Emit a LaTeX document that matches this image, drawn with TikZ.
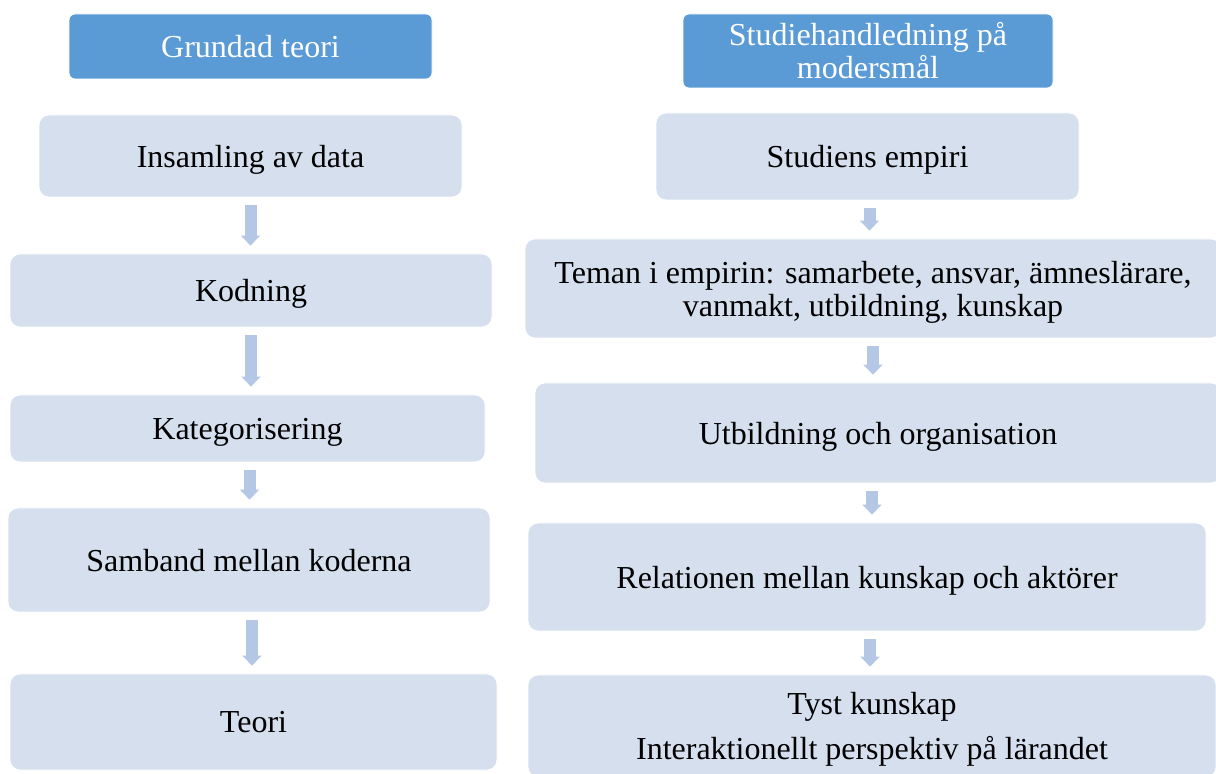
\documentclass[tikz,border=0pt]{standalone}
\usepackage{fontspec}
\setmainfont{Liberation Serif}
\usetikzlibrary{arrows.meta}
\definecolor{headblue}{HTML}{5B9BD5}
\definecolor{boxblue}{HTML}{D5DFEE}
\definecolor{arrowblue}{HTML}{B4C8E6}

\begin{document}
\begin{tikzpicture}[
  x=0.5pt,
  y=-0.5pt,
  font=\fontsize{16}{16.5}\selectfont,
  head/.style={
    fill=headblue,
    draw=white,
    text=white,
    rounded corners=3pt,
    align=center,
    inner sep=0pt
  },
  stage/.style={
    fill=boxblue,
    draw=white,
    rounded corners=5pt,
    align=center,
    text depth=0pt,
    inner sep=0pt
  },
  flow/.style={
    draw=arrowblue,
    line width=6pt,
    -{Triangle[width=9.5pt, length=5pt]},
    shorten <=4pt,
    shorten >=4pt
  }
  ]
  \useasboundingbox (0, 0) rectangle (1216, 774);
  \clip (0, 0) rectangle (1216, 774);

  \node [head, minimum width=181.5pt, minimum height=32.5pt] (Grundad) at (250.5, 46.5) {Grundad teori};
  \node [stage, minimum width=211.5pt, minimum height=41pt] (Insamling) at (250.5, 156) {Insamling av data};
  \node [stage, minimum width=241pt, minimum height=36.5pt] (Kodning) at (251, 290.5) {Kodning};
  \node [stage, minimum width=237.5pt, minimum height=33.5pt] (Kategorisering) at (247.5, 428.5) {Kategorisering};
  \node [stage, minimum width=241pt, minimum height=52pt] (Samband) at (249, 560) {Samband mellan koderna};
  \node [stage, minimum width=243.5pt, minimum height=48pt] (Teori) at (253.5, 722) {Teori};

  \node [head, minimum width=185pt, minimum height=37pt] (Studiehandledning) at (868, 51) {Studiehandledning på\\modersmål};
  \node [stage, minimum width=211.5pt, minimum height=43.5pt] (Empiri) at (867.5, 156.5) {Studiens empiri};
  \node [stage, minimum width=348pt, minimum height=49.5pt] (Teman) at (873, 288.5) {Teman i empirin: samarbete, ansvar, ämneslärare,\\vanmakt, utbildning, kunskap};
  \node [stage, minimum width=343pt, minimum height=50pt] (Utbildning) at (878, 433) {Utbildning och organisation};
  \node [stage, minimum width=339pt, minimum height=54pt] (Relationen) at (867, 577) {Relationen mellan kunskap och aktörer};
  \node [stage, minimum width=344pt, minimum height=51pt] (Tyst) at (872, 726) {Tyst kunskap\\[6pt]Interaktionellt perspektiv på lärandet};

  \draw [flow] (Insamling.south) -- (Insamling.south |- Kodning.north);
  \draw [flow] (Kodning.south) -- (Kodning.south |- Kategorisering.north);
  \draw [flow] ([xshift=1pt]Kategorisering.south) -- ([xshift=1pt]Kategorisering.south |- Samband.north);
  \draw [flow] ([xshift=1.5pt]Samband.south) -- ([xshift=1.5pt]Samband.south |- Teori.north);

  \draw [flow] ([xshift=1pt]Empiri.south) -- ([xshift=1pt]Empiri.south |- Teman.north);
  \draw [flow] (Teman.south) -- (Teman.south |- Utbildning.north);
  \draw [flow] ([xshift=-3pt]Utbildning.south) -- ([xshift=-3pt]Utbildning.south |- Relationen.north);
  \draw [flow] ([xshift=1.5pt]Relationen.south) -- ([xshift=1.5pt]Relationen.south |- Tyst.north);
\end{tikzpicture}
\end{document}
